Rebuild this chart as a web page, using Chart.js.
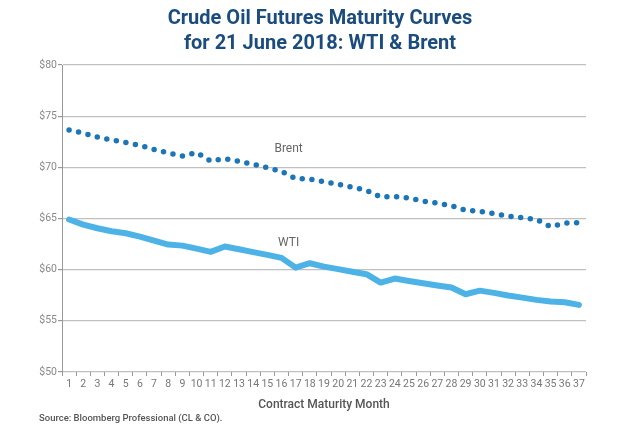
<!DOCTYPE html>
<html>
<head>
<meta charset="utf-8">
<script src="https://cdn.jsdelivr.net/npm/chart.js@4"></script>
<style>
  html, body { margin: 0; padding: 0; background: #fff; }
  #wrap { position: relative; width: 640px; height: 444px; }
  #title { position: absolute; left: 0; top: 5px; width: 640px; text-align: center;
    font-family: Roboto, sans-serif; font-weight: 700; font-size: 20px; line-height: 25px; color: #1b4c7e; }
  #source { position: absolute; left: 39px; top: 412px; font-family: Roboto, sans-serif;
    font-size: 9.5px; font-weight: 500; color: #555; }
  canvas { position: absolute; left: 0; top: 0; }
</style>
</head>
<body>
<div id="wrap">
  <canvas id="c" width="640" height="444"></canvas>
  <div id="title">Crude Oil Futures Maturity Curves<br>for 21 June 2018: WTI &amp; Brent</div>
  <div id="source">Source: Bloomberg Professional (CL &amp; CO).</div>
</div>
<script>
const months = [1,2,3,4,5,6,7,8,9,10,11,12,13,14,15,16,17,18,19,20,21,22,23,24,25,26,27,28,29,30,31,32,33,34,35,36,37];
const brent = [73.65,73.35,72.95,72.68,72.43,72.15,71.75,71.4,71.1,71.45,70.6,70.85,70.6,70.3,69.97,69.6,68.9,68.85,68.6,68.35,68.05,67.75,67.1,67.15,67.0,66.7,66.5,66.25,65.8,65.7,65.47,65.23,65.08,64.9,64.2,64.55,64.6];
const wti = [64.9,64.4,64.05,63.76,63.56,63.23,62.84,62.45,62.35,62.06,61.74,62.26,62.0,61.71,61.45,61.15,60.2,60.63,60.3,60.05,59.8,59.56,58.74,59.13,58.9,58.68,58.45,58.25,57.6,57.95,57.73,57.47,57.27,57.05,56.88,56.82,56.56];
const yTicks = [50,55,60,65,70,75,80];
const seriesLabels = [
  { text: 'Brent', month: 16.5, value: 71.77 },
  { text: 'WTI', month: 16.5, value: 62.65 }
];

const labelPlugin = {
  id: 'seriesLabels',
  afterDatasetsDraw(chart) {
    const ctx = chart.ctx;
    const xs = chart.scales.x, ys = chart.scales.y;
    ctx.save();
    ctx.font = '400 12px Roboto, sans-serif';
    ctx.fillStyle = '#666';
    ctx.textAlign = 'center';
    ctx.textBaseline = 'middle';
    seriesLabels.forEach(l => {
      const i = Math.floor(l.month) - 1;
      const f = l.month - Math.floor(l.month);
      const x = xs.getPixelForValue(i) + f * (xs.getPixelForValue(i + 1) - xs.getPixelForValue(i));
      ctx.fillText(l.text, x, ys.getPixelForValue(l.value));
    });
    ctx.restore();
  }
};

new Chart(document.getElementById('c'), {
  type: 'line',
  data: {
    labels: months.map(String),
    datasets: [
      { label: 'Brent', data: brent, borderColor: '#1b75b9', borderWidth: 5.5,
        borderDash: [0, 9.7], borderCapStyle: 'round', pointRadius: 0, tension: 0, fill: false },
      { label: 'WTI', data: wti, borderColor: '#4db3e6', borderWidth: 6,
        borderJoinStyle: 'round', borderCapStyle: 'round', pointRadius: 0, tension: 0, fill: false }
    ]
  },
  options: {
    responsive: false,
    animation: false,
    layout: { padding: { left: 30, right: 54, top: 65, bottom: 30 } },
    plugins: { legend: { display: false }, tooltip: { enabled: false }, title: { display: false } },
    scales: {
      x: {
        offset: true,
        grid: { offset: true, drawOnChartArea: false, drawTicks: true, tickLength: 4, color: '#999' },
        border: { display: false },
        ticks: { color: '#777', font: { family: 'Roboto', size: 10.5 }, padding: 2, maxRotation: 0, autoSkip: false },
        title: { display: true, text: 'Contract Maturity Month', color: '#555',
          font: { family: 'Roboto', size: 12, weight: '500' }, padding: { top: 4, bottom: 2 } },
        afterFit(s) { s.height = 42; }
      },
      y: {
        min: 50, max: 80,
        afterBuildTicks(s) { s.ticks = yTicks.map(v => ({ value: v })); },
        grid: { color: '#c0c0c0', lineWidth: 1.2, tickLength: 4, tickColor: '#999' },
        border: { display: true, color: '#999', width: 1 },
        ticks: { color: '#888', font: { family: 'Roboto', size: 10.5 }, padding: 1, callback: v => '$' + v },
        afterFit(s) { s.width = 32; }
      }
    }
  },
  plugins: [labelPlugin]
});
</script>
</body>
</html>
